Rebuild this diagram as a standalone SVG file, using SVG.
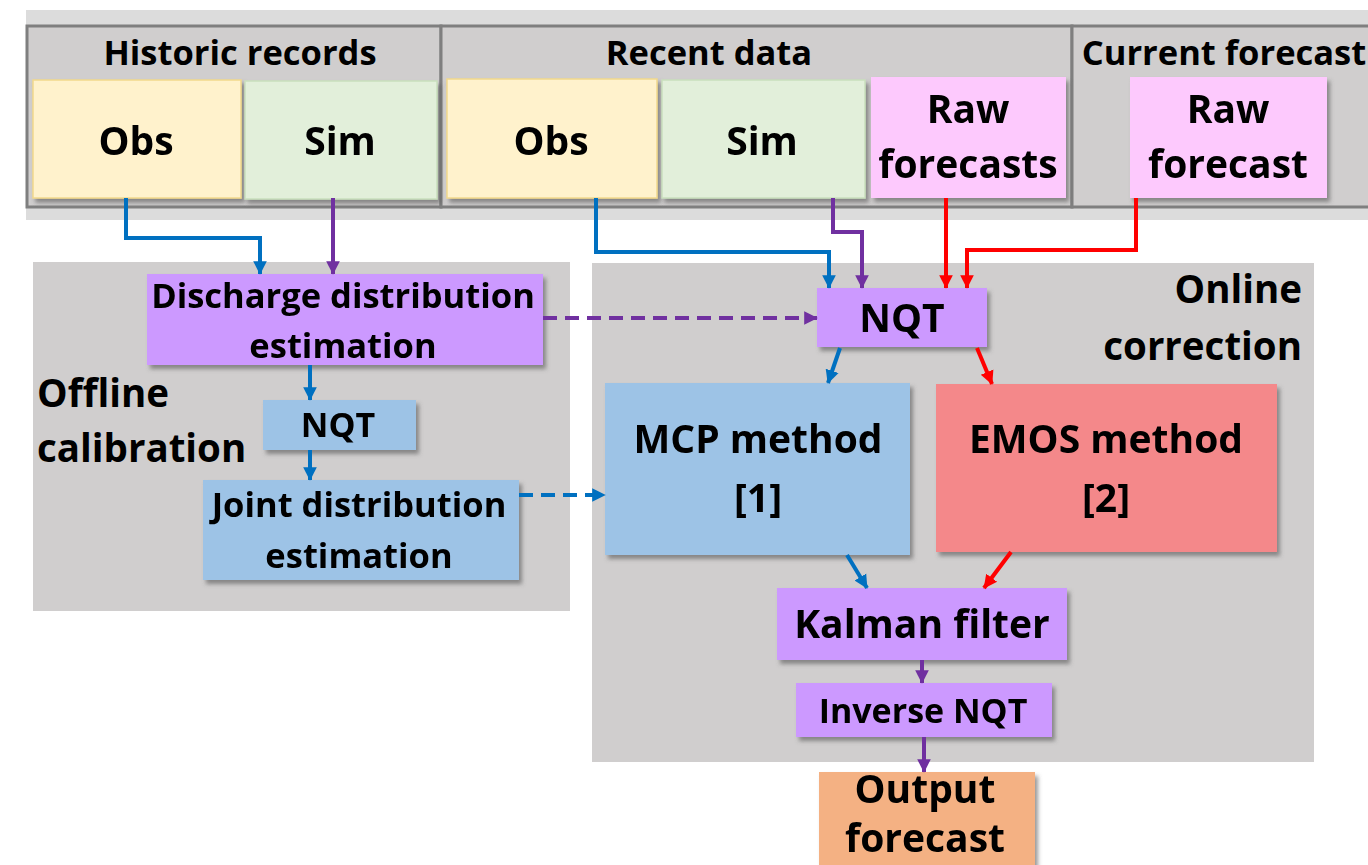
<svg xmlns="http://www.w3.org/2000/svg" width="1368" height="865" viewBox="0 0 1368 865">
  <defs>
    <style>
      text { font-family: "Open Sans", Lato, "Liberation Sans", sans-serif; font-weight: 700; fill: #000; text-anchor: middle; }
      .hdr { font-size: 34.5px; }
      .big { font-size: 39px; }
      .mid { font-size: 34.5px; }
      .sm { font-size: 34px; }
      .lbl { font-size: 38.5px; }
      .band { fill: #dcdcdc; }
      .grp { fill: #d0cece; stroke: #7f7f7f; stroke-width: 3; }
      .panel { fill: #d0cece; }
      .obs { fill: #fff2cc; stroke: #f2d98c; stroke-width: 1.5; }
      .sim { fill: #e2efda; stroke: #c9dfbd; stroke-width: 1.5; }
      .raw { fill: #fdc9fd; }
      .pur { fill: #cc99ff; }
      .blu { fill: #9dc3e6; }
      .red { fill: #f4888a; }
      .org { fill: #f4b183; }
      .cb { fill: none; stroke: #0070c0; stroke-width: 4; }
      .cp { fill: none; stroke: #7030a0; stroke-width: 4; }
      .cr { fill: none; stroke: #ff0000; stroke-width: 4; }
      .dash { stroke-dasharray: 14 8; }
    </style>
    <filter id="shadow" x="-10%" y="-10%" width="125%" height="130%">
      <feDropShadow dx="3" dy="4" stdDeviation="2" flood-color="#555" flood-opacity="0.6"/>
    </filter>
    <marker id="ab" markerWidth="4" markerHeight="4" refX="3.2" refY="2" orient="auto" markerUnits="strokeWidth">
      <path d="M0,0.3 L3.4,2 L0,3.7 Z" fill="#0070c0"/>
    </marker>
    <marker id="ap" markerWidth="4" markerHeight="4" refX="3.2" refY="2" orient="auto" markerUnits="strokeWidth">
      <path d="M0,0.3 L3.4,2 L0,3.7 Z" fill="#7030a0"/>
    </marker>
    <marker id="ar" markerWidth="4" markerHeight="4" refX="3.2" refY="2" orient="auto" markerUnits="strokeWidth">
      <path d="M0,0.3 L3.4,2 L0,3.7 Z" fill="#ff0000"/>
    </marker>
  </defs>

  <rect width="1368" height="865" fill="#ffffff"/>

  <!-- input band -->
  <g id="inputs">
    <rect class="band" x="26" y="10" width="1342" height="210"/>
    <rect class="grp" x="27" y="26" width="414" height="181"/>
    <rect class="grp" x="441" y="26" width="631" height="181"/>
    <rect class="grp" x="1072" y="26" width="300" height="181"/>
    <text class="hdr" x="240" y="65">Historic records</text>
    <text class="hdr" x="709" y="65">Recent data</text>
    <text class="hdr" x="1224" y="65">Current forecast</text>
  </g>

  <g id="hist-obs" filter="url(#shadow)">
    <rect class="obs" x="33" y="80" width="208" height="118"/>
    <text class="big" x="136" y="155">Obs</text>
  </g>
  <g id="hist-sim" filter="url(#shadow)">
    <rect class="sim" x="245" y="81" width="192" height="118"/>
    <text class="big" x="340" y="155">Sim</text>
  </g>
  <g id="recent-obs" filter="url(#shadow)">
    <rect class="obs" x="447" y="79" width="210" height="119"/>
    <text class="big" x="551" y="155">Obs</text>
  </g>
  <g id="recent-sim" filter="url(#shadow)">
    <rect class="sim" x="662" y="80" width="203" height="118"/>
    <text class="big" x="762" y="155">Sim</text>
  </g>
  <g id="raw-forecasts" filter="url(#shadow)">
    <rect class="raw" x="871" y="77" width="195" height="121"/>
    <text class="big" x="968" y="123">Raw</text>
    <text class="big" x="968" y="178">forecasts</text>
  </g>
  <g id="raw-forecast" filter="url(#shadow)">
    <rect class="raw" x="1130" y="77" width="197" height="121"/>
    <text class="big" x="1228" y="123">Raw</text>
    <text class="big" x="1228" y="178">forecast</text>
  </g>

  <!-- offline calibration panel -->
  <g id="offline">
    <rect class="panel" x="33" y="262" width="537" height="349"/>
    <text class="lbl" x="37" y="407" style="text-anchor:start">Offline</text>
    <text class="lbl" x="37" y="462" style="text-anchor:start">calibration</text>
  </g>

  <!-- online correction panel -->
  <g id="online">
    <rect class="panel" x="592" y="263" width="722" height="499"/>
    <text class="lbl" x="1302" y="303" style="text-anchor:end">Online</text>
    <text class="lbl" x="1302" y="360" style="text-anchor:end">correction</text>
  </g>

  <g id="discharge" filter="url(#shadow)">
    <rect class="pur" x="147" y="274" width="396" height="91"/>
    <text class="mid" x="343" y="308">Discharge distribution</text>
    <text class="mid" x="343" y="358">estimation</text>
  </g>
  <g id="nqt-offline" filter="url(#shadow)">
    <rect class="blu" x="263" y="400" width="153" height="50"/>
    <text class="sm" x="338" y="437">NQT</text>
  </g>
  <g id="joint" filter="url(#shadow)">
    <rect class="blu" x="203" y="480" width="316" height="100"/>
    <text class="mid" x="359" y="517">Joint distribution</text>
    <text class="mid" x="359" y="568">estimation</text>
  </g>

  <g id="nqt-online" filter="url(#shadow)">
    <rect class="pur" x="817" y="288" width="170" height="59"/>
    <text class="big" x="902" y="332">NQT</text>
  </g>
  <g id="mcp" filter="url(#shadow)">
    <rect class="blu" x="605" y="383" width="305" height="172"/>
    <text class="big" x="758" y="453">MCP method</text>
    <text class="big" x="758" y="512">[1]</text>
  </g>
  <g id="emos" filter="url(#shadow)">
    <rect class="red" x="936" y="384" width="341" height="168"/>
    <text class="big" x="1106" y="453">EMOS method</text>
    <text class="big" x="1106" y="512">[2]</text>
  </g>
  <g id="kalman" filter="url(#shadow)">
    <rect class="pur" x="777" y="588" width="290" height="72"/>
    <text class="big" x="922" y="638">Kalman filter</text>
  </g>
  <g id="inverse-nqt" filter="url(#shadow)">
    <rect class="pur" x="796" y="683" width="256" height="54"/>
    <text class="sm" x="923" y="723">Inverse NQT</text>
  </g>
  <g id="output" filter="url(#shadow)">
    <rect class="org" x="819" y="772" width="216" height="100"/>
    <text class="big" x="925" y="803">Output</text>
    <text class="big" x="925" y="852">forecast</text>
  </g>

  <!-- connectors -->
  <g id="connectors">
    <polyline class="cb" points="126,198 126,238 260,238 260,274" marker-end="url(#ab)"/>
    <polyline class="cp" points="333,198 333,274" marker-end="url(#ap)"/>
    <polyline class="cb" points="596,198 596,252 829,252 829,288" marker-end="url(#ab)"/>
    <polyline class="cp" points="833,198 833,232 862,232 862,288" marker-end="url(#ap)"/>
    <polyline class="cr" points="946,198 946,288" marker-end="url(#ar)"/>
    <polyline class="cr" points="1136,198 1136,250 967,250 967,288" marker-end="url(#ar)"/>
    <line class="cp dash" x1="543" y1="318" x2="817" y2="318" marker-end="url(#ap)"/>
    <line class="cb" x1="310" y1="365" x2="310" y2="400" marker-end="url(#ab)"/>
    <line class="cb" x1="310" y1="450" x2="310" y2="480" marker-end="url(#ab)"/>
    <line class="cb dash" x1="519" y1="495" x2="605" y2="495" marker-end="url(#ab)"/>
    <line class="cb" x1="840" y1="348" x2="828" y2="383" marker-end="url(#ab)"/>
    <line class="cr" x1="977" y1="348" x2="992" y2="384" marker-end="url(#ar)"/>
    <line class="cb" x1="847" y1="555" x2="867" y2="588" marker-end="url(#ab)"/>
    <line class="cr" x1="1011" y1="552" x2="984" y2="588" marker-end="url(#ar)"/>
    <line class="cp" x1="922" y1="660" x2="922" y2="683" marker-end="url(#ap)"/>
    <line class="cp" x1="924" y1="737" x2="924" y2="772" marker-end="url(#ap)"/>
  </g>
</svg>
